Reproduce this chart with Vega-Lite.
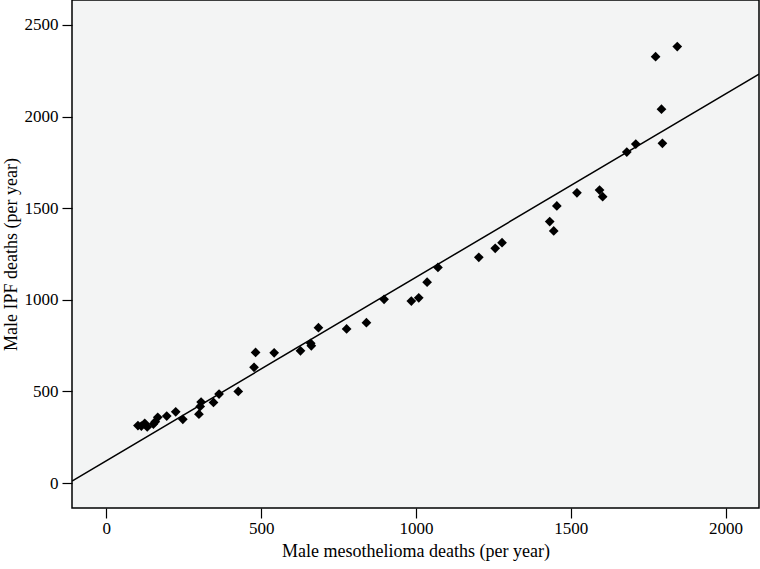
{
  "$schema": "https://vega.github.io/schema/vega-lite/v6.json",
  "width": 687,
  "height": 508,
  "autosize": {"type": "none"},
  "padding": {"left": 72, "top": 0, "right": 1, "bottom": 61},
  "background": "white",
  "config": {
    "view": {"fill": "#F3F4F4", "stroke": "#000000", "strokeWidth": 1.5},
    "font": "Liberation Serif",
    "axis": {
      "labelFont": "Liberation Serif",
      "titleFont": "Liberation Serif",
      "labelFontSize": 17,
      "titleFontSize": 18,
      "titleFontWeight": "normal",
      "labelColor": "#000000",
      "titleColor": "#000000",
      "tickColor": "#000000",
      "tickWidth": 1.2,
      "tickSize": 10,
      "domain": false,
      "grid": false
    }
  },
  "layer": [
    {
      "data": {"values": [
        {"x": 102, "y": 314}, {"x": 113, "y": 311}, {"x": 124, "y": 326}, {"x": 132, "y": 306},
        {"x": 152, "y": 322}, {"x": 158, "y": 335}, {"x": 166, "y": 359}, {"x": 195, "y": 366},
        {"x": 224, "y": 389}, {"x": 247, "y": 348}, {"x": 299, "y": 376}, {"x": 303, "y": 418},
        {"x": 306, "y": 442}, {"x": 346, "y": 440}, {"x": 364, "y": 486}, {"x": 426, "y": 500},
        {"x": 477, "y": 632}, {"x": 482, "y": 713}, {"x": 542, "y": 711}, {"x": 627, "y": 722},
        {"x": 660, "y": 763}, {"x": 662, "y": 749}, {"x": 685, "y": 848}, {"x": 776, "y": 841},
        {"x": 840, "y": 875}, {"x": 897, "y": 1003}, {"x": 985, "y": 993}, {"x": 1009, "y": 1011},
        {"x": 1036, "y": 1096}, {"x": 1071, "y": 1177}, {"x": 1203, "y": 1232}, {"x": 1256, "y": 1281},
        {"x": 1278, "y": 1312}, {"x": 1432, "y": 1427}, {"x": 1445, "y": 1376}, {"x": 1455, "y": 1512},
        {"x": 1520, "y": 1584}, {"x": 1593, "y": 1599}, {"x": 1603, "y": 1563}, {"x": 1681, "y": 1806},
        {"x": 1710, "y": 1850}, {"x": 1774, "y": 2327}, {"x": 1844, "y": 2382}, {"x": 1793, "y": 2040},
        {"x": 1796, "y": 1854}
      ]},
      "mark": {"type": "point", "shape": "diamond", "filled": true, "color": "#000000", "opacity": 1, "size": 95},
      "encoding": {
        "x": {"field": "x", "type": "quantitative", "scale": {"domain": [-111, 2108], "nice": false, "zero": false},
              "axis": {"values": [0, 500, 1000, 1500, 2000], "format": "d", "title": "Male mesothelioma deaths (per year)", "labelPadding": 2, "titlePadding": 6}},
        "y": {"field": "y", "type": "quantitative", "scale": {"domain": [-136, 2636], "nice": false, "zero": false},
              "axis": {"values": [0, 500, 1000, 1500, 2000, 2500], "format": "d", "title": "Male IPF deaths (per year)", "labelPadding": 4, "titlePadding": 4}}
      }
    },
    {
      "data": {"values": [{"x": -111, "y": 11}, {"x": 2108, "y": 2232}]},
      "mark": {"type": "line", "color": "#000000", "strokeWidth": 1.5, "clip": true},
      "encoding": {
        "x": {"field": "x", "type": "quantitative"},
        "y": {"field": "y", "type": "quantitative"}
      }
    }
  ]
}
